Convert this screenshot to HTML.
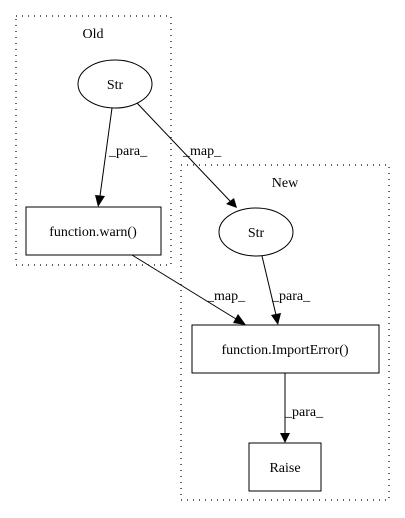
<!DOCTYPE html>
<html><head><style>body{margin:0;background:#fff}svg{display:block}text{font-family:"Liberation Serif",serif;font-size:14px}</style></head><body>
<svg width="405" height="518" xmlns="http://www.w3.org/2000/svg">
<rect x="16" y="16" width="155" height="249" fill="none" stroke="#000" stroke-dasharray="1,5" stroke-width="1.2"/>
<text x="93" y="38" text-anchor="middle">Old</text>
<rect x="181" y="165" width="208" height="335" fill="none" stroke="#000" stroke-dasharray="1,5" stroke-width="1.2"/>
<text x="285" y="187" text-anchor="middle">New</text>
<g fill="none" stroke="#000">
<ellipse cx="115" cy="84" rx="37" ry="24"/>
<rect x="26" y="207" width="135" height="48"/>
<ellipse cx="256" cy="232" rx="37" ry="24"/>
<rect x="192" y="325" width="187" height="48"/>
<rect x="249" y="443" width="72" height="48"/>
<path d="M112 108 L100 196"/>
<path d="M137 103 L230 201"/>
<path d="M132 255 L236 319"/>
<path d="M262 256 L276 315"/>
<path d="M285 373 L285 433"/>
</g>
<g fill="#000">
<polygon points="95,195 105,196 98,207"/>
<polygon points="226,204 234,198 237,208"/>
<polygon points="233,323 238,314 246,325"/>
<polygon points="271,315 281,313 278,325"/>
<polygon points="280,433 290,433 285,443"/>
</g>
<g text-anchor="middle">
<text x="115" y="89">Str</text>
<text x="93" y="236">function.warn()</text>
<text x="256" y="237">Str</text>
<text x="285" y="354">function.ImportError()</text>
<text x="285" y="472">Raise</text>
</g>
<text x="109" y="155">_para_</text>
<text x="183" y="155">_map_</text>
<text x="207" y="300">_map_</text>
<text x="272" y="300">_para_</text>
<text x="285" y="416">_para_</text>
</svg>
</body></html>
